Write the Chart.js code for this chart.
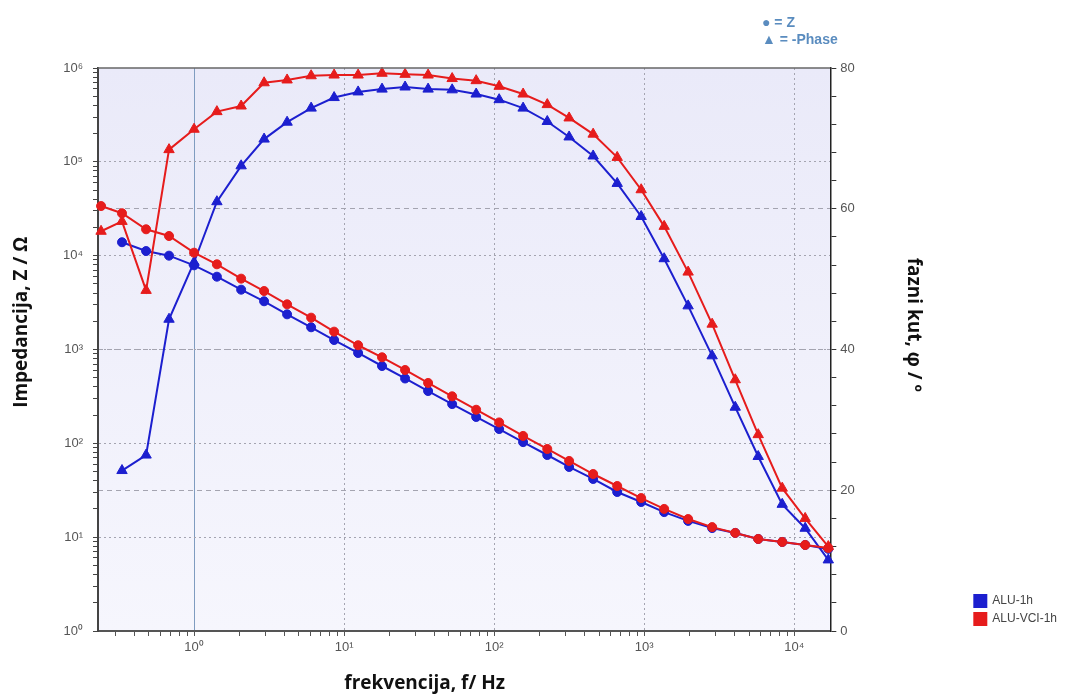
<!DOCTYPE html>
<html>
<head>
<meta charset="utf-8">
<script src="https://cdn.jsdelivr.net/npm/chart.js@4"></script>
<style>
  body { margin: 0; background: #fff; }
  #wrap { width: 1067px; height: 695px; }
</style>
</head>
<body>
<div id="wrap"><canvas id="bode" width="1067" height="695"></canvas></div>
<script>
// frequencies (Hz) of the ALU-VCI-1h sweep; ALU-1h starts at the second one
var freqVci = [0.24, 0.331, 0.479, 0.681, 1.00, 1.42, 2.06, 2.93, 4.17, 6.03, 8.58,
  12.4, 17.9, 25.5, 36.3, 52.5, 75.9, 108, 156, 226, 316, 457, 661, 955,
  1359, 1963, 2838, 4045, 5754, 8318, 11830, 16870];
var freqAlu = freqVci.slice(1);

// |Z| in ohm
var zAlu = [13900, 11200, 10000, 7890, 5970, 4340, 3265, 2370, 1725, 1262, 918, 667,
  491, 361, 262, 191, 142, 103, 75.1, 56.0, 41.7, 30.3, 23.7, 18.5, 14.9, 12.5,
  11.1, 9.57, 8.89, 8.26, 7.5];
var zVci = [33800, 28300, 19100, 16200, 10760, 8090, 5690, 4200, 3030, 2185, 1550, 1110,
  826, 605, 440, 317, 228, 167, 120, 87.1, 64.9, 47.1, 35.1, 26.1, 20.0, 15.6,
  12.8, 11.1, 9.57, 8.89, 8.26, 7.67];

// -phase in degrees
var phAlu = [22.8, 25.0, 44.3, 52.4, 61.0, 66.1, 69.9, 72.3, 74.3, 75.8, 76.6, 77.0,
  77.3, 77.0, 76.9, 76.3, 75.5, 74.3, 72.4, 70.2, 67.5, 63.6, 58.9, 52.9, 46.2,
  39.1, 31.8, 24.8, 18.0, 14.6, 10.1];
var phVci = [56.8, 58.2, 48.4, 68.4, 71.3, 73.8, 74.6, 77.9, 78.3, 78.9, 79.0, 79.0,
  79.25, 79.1, 79.0, 78.5, 78.2, 77.4, 76.3, 74.8, 72.9, 70.6, 67.3, 62.7, 57.5,
  51.0, 43.6, 35.7, 27.9, 20.3, 16.0, 12.0];

// tick labels
var freqTicks = [1, 10, 100, 1000, 10000];
var freqTickLabels = ['10⁰', '10¹', '10²', '10³', '10⁴'];
var zTicks = [1, 10, 100, 1000, 10000, 100000, 1000000];
var zTickLabels = ['10⁰', '10¹', '10²', '10³', '10⁴', '10⁵', '10⁶'];
var phaseTicks = [0, 20, 40, 60, 80];
var phaseTickLabels = ['0', '20', '40', '60', '80'];

var BLUE = '#1c1fcf';
var RED = '#e61c1c';

function pts(xs, ys) {
  return ys.map(function (v, i) { return { x: xs[i], y: v }; });
}

function isMajor(list, v) {
  for (var i = 0; i < list.length; i++) {
    if (Math.abs(list[i] - v) < list[i] * 1e-6 + 1e-9) return i;
  }
  return -1;
}

// 1..9 x 10^n minor ticks for the log axes
function logTicks(scale) {
  var out = [];
  var e0 = Math.floor(Math.log10(scale.min));
  var e1 = Math.ceil(Math.log10(scale.max));
  for (var e = e0; e <= e1; e++) {
    for (var m = 1; m < 10; m++) {
      var v = m * Math.pow(10, e);
      if (v >= scale.min * 0.9999 && v <= scale.max * 1.0001) out.push({ value: v });
    }
  }
  scale.ticks = out;
}

var plotBg = {
  id: 'plotBg',
  beforeDraw: function (chart) {
    var a = chart.chartArea, c = chart.ctx;
    var g = c.createLinearGradient(0, a.top, 0, a.bottom);
    g.addColorStop(0, '#eaeaf9');
    g.addColorStop(1, '#f6f6fd');
    c.save();
    c.fillStyle = g;
    c.fillRect(a.left, a.top, a.right - a.left, a.bottom - a.top);
    c.restore();
  },
  afterDraw: function (chart) {
    var a = chart.chartArea, c = chart.ctx;
    c.save();
    c.strokeStyle = '#666';
    c.lineWidth = 1.5;
    c.beginPath();
    c.moveTo(a.left, a.top);
    c.lineTo(a.right, a.top);
    c.stroke();
    // marker key at the top
    c.fillStyle = '#5a8cbf';
    c.font = 'bold 14px "Liberation Sans", Arial, sans-serif';
    c.textBaseline = 'middle';
    c.fillText('● = Z', 762, 23);
    c.fillText('▲ = -Phase', 762, 40);
    c.restore();
  }
};

var tickFont = { family: '"Liberation Sans", Arial, sans-serif', size: 13 };
var titleFont = { family: '"Open Sans", Lato, sans-serif', size: 19, weight: 'bold' };

new Chart(document.getElementById('bode'), {
  type: 'line',
  data: {
    datasets: [
      { label: 'ALU-1h', data: pts(freqAlu, zAlu), yAxisID: 'y', borderColor: BLUE, backgroundColor: BLUE,
        pointStyle: 'circle', pointRadius: 4.5, order: 1 },
      { label: 'ALU-VCI-1h', data: pts(freqVci, zVci), yAxisID: 'y', borderColor: RED, backgroundColor: RED,
        pointStyle: 'circle', pointRadius: 4.5, order: 0 },
      { label: 'ALU-1h phase', data: pts(freqAlu, phAlu), yAxisID: 'y1', borderColor: BLUE, backgroundColor: BLUE,
        pointStyle: 'triangle', pointRadius: 6, order: 1 },
      { label: 'ALU-VCI-1h phase', data: pts(freqVci, phVci), yAxisID: 'y1', borderColor: RED, backgroundColor: RED,
        pointStyle: 'triangle', pointRadius: 6, order: 0 }
    ]
  },
  options: {
    responsive: false,
    animation: false,
    elements: {
      line: { borderWidth: 2, tension: 0 },
      point: { borderWidth: 1 }
    },
    datasets: { line: { clip: false } },
    layout: { padding: { top: 68, right: 0, bottom: 0, left: 0 } },
    plugins: {
      title: { display: false },
      tooltip: { enabled: false },
      legend: {
        position: 'right',
        align: 'end',
        fullSize: false,
        labels: {
          boxWidth: 12,
          boxHeight: 12,
          padding: 6,
          color: '#444',
          font: { family: '"Liberation Sans", Arial, sans-serif', size: 12 },
          filter: function (item) { return item.datasetIndex < 2; },
          sort: function (a, b) { return a.datasetIndex - b.datasetIndex; }
        }
      }
    },
    scales: {
      x: {
        type: 'logarithmic',
        position: 'bottom',
        min: 0.229,
        max: 17400,
        afterBuildTicks: logTicks,
        afterFit: function (s) { s.height = 64; },
        ticks: {
          autoSkip: false,
          maxRotation: 0,
          padding: 4,
          color: '#555',
          font: tickFont,
          callback: function (v) { var i = isMajor(freqTicks, v); return i < 0 ? '' : freqTickLabels[i]; }
        },
        grid: {
          tickLength: 5,
          tickColor: '#555',
          color: function (ctx) {
            if (!ctx.tick) return 'rgba(0,0,0,0)';
            var i = isMajor(freqTicks, ctx.tick.value);
            if (i < 0) return 'rgba(0,0,0,0)';
            return i === 0 ? '#7f9cc0' : '#a4a4b0';
          }
        },
        border: {
          color: '#555',
          width: 2,
          dash: function (ctx) {
            return ctx.tick && isMajor([1], ctx.tick.value) === 0 ? [] : [2, 3];
          }
        },
        title: {
          display: true,
          text: 'frekvencija, f/ Hz                ',
          color: '#111',
          font: titleFont,
          padding: { top: 0, bottom: 0 }
        }
      },
      y: {
        type: 'logarithmic',
        position: 'left',
        min: 1,
        max: 1000000,
        afterBuildTicks: logTicks,
        afterFit: function (s) { s.width = 98; },
        ticks: {
          autoSkip: false,
          padding: 10,
          color: '#555',
          font: tickFont,
          callback: function (v) { var i = isMajor(zTicks, v); return i < 0 ? '' : zTickLabels[i]; }
        },
        grid: {
          tickLength: 5,
          tickColor: '#444',
          color: function (ctx) {
            if (!ctx.tick) return 'rgba(0,0,0,0)';
            var i = isMajor(zTicks, ctx.tick.value);
            return (i > 0 && i < zTicks.length - 1) ? '#a4a4b0' : 'rgba(0,0,0,0)';
          }
        },
        border: { color: '#444', width: 2, dash: [2, 3] },
        title: {
          display: true,
          text: '           Impedancija, Z / Ω',
          color: '#111',
          font: titleFont,
          padding: { top: 10, bottom: 0 }
        }
      },
      y1: {
        type: 'linear',
        position: 'right',
        min: 0,
        max: 80,
        afterBuildTicks: function (s) {
          var out = [];
          for (var v = 0; v <= 80; v += 4) out.push({ value: v });
          s.ticks = out;
        },
        afterFit: function (s) { s.width = 138; },
        ticks: {
          autoSkip: false,
          padding: 4,
          color: '#555',
          font: tickFont,
          callback: function (v) { var i = isMajor(phaseTicks, v); return i < 0 ? '' : phaseTickLabels[i]; }
        },
        grid: {
          tickLength: 6,
          tickColor: '#333',
          color: function (ctx) {
            if (!ctx.tick) return 'rgba(0,0,0,0)';
            var i = isMajor(phaseTicks, ctx.tick.value);
            return (i > 0 && i < phaseTicks.length - 1) ? '#a4a4b0' : 'rgba(0,0,0,0)';
          }
        },
        border: { color: '#222', width: 1.5, dash: [5, 4] },
        title: {
          display: true,
          text: 'fazni kut, φ / º          ',
          color: '#111',
          font: titleFont,
          padding: { top: 44, bottom: 0 }
        }
      }
    }
  },
  plugins: [plotBg]
});
</script>
</body>
</html>
